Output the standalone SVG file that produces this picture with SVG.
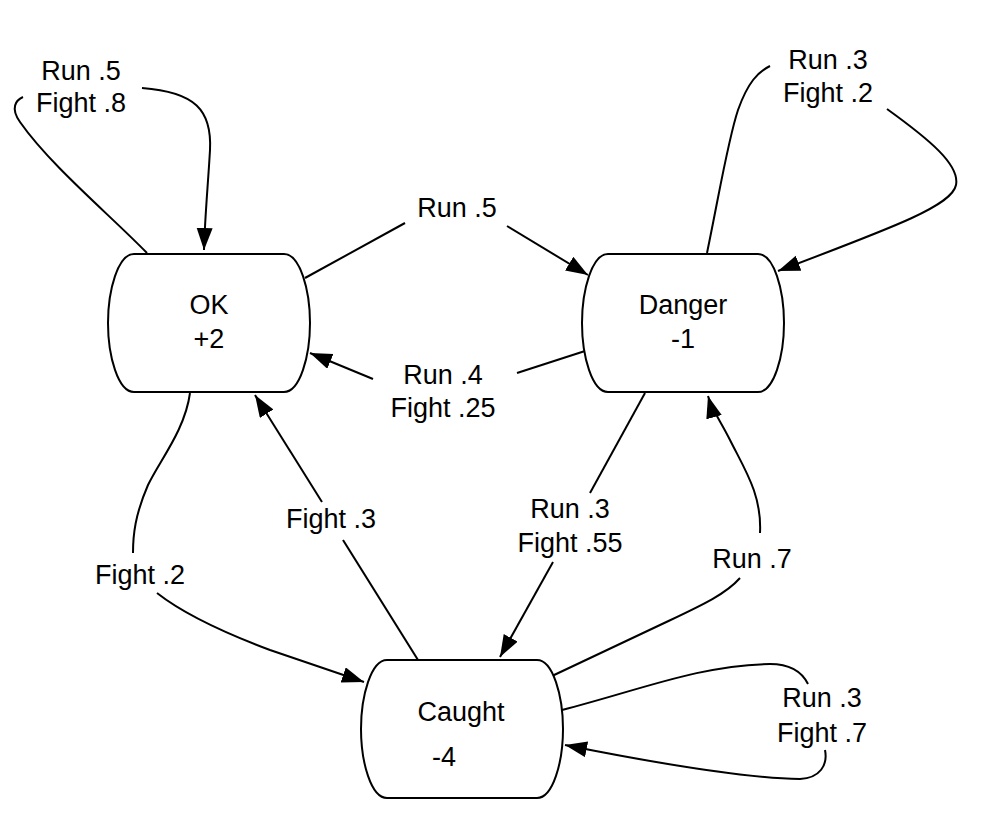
<svg xmlns="http://www.w3.org/2000/svg" width="985" height="816" viewBox="0 0 985 816">
<style>
text{font-family:"Liberation Sans",Arial,Helvetica,sans-serif;font-size:27px;fill:#000;text-anchor:middle}
.node{fill:#fff;stroke:#000;stroke-width:2}
.edge{fill:none;stroke:#000;stroke-width:2}
</style>
<defs>
<marker id="arr" markerUnits="userSpaceOnUse" markerWidth="24" markerHeight="18" refX="22" refY="8" orient="auto">
<path d="M0,0 L22,8 L0,16 Z" fill="#000"/>
</marker>
<path id="drum" d="M26,0 H176 C192,0 202,36 202,69 C202,102 192,138 176,138 H26 C10,138 0,102 0,69 C0,36 10,0 26,0 Z"/>
</defs>
<rect width="985" height="816" fill="#fff"/>
<g id="connectors">
<path class="edge" d="M147,253 C110,215 50,165 20,122 C10,108 16,100 23,97"/>
<path class="edge" d="M142,88 C195,92 212,110 210,150 C208,185 205,215 204,250" marker-end="url(#arr)"/>
<path class="edge" d="M707,253 C720,190 728,140 738,110 C748,82 758,72 770,66"/>
<path class="edge" d="M887,109 C930,140 960,165 956,185 C952,205 900,225 778,271" marker-end="url(#arr)"/>
<path class="edge" d="M305,278 L405,223"/>
<path class="edge" d="M507,226 L588,275" marker-end="url(#arr)"/>
<path class="edge" d="M585,351 L517,373"/>
<path class="edge" d="M373,379 L310,353" marker-end="url(#arr)"/>
<path class="edge" d="M190,393 C185,430 160,460 148,485 C135,515 133,535 133,553"/>
<path class="edge" d="M157,593 C185,615 230,635 270,650 L364,682" marker-end="url(#arr)"/>
<path class="edge" d="M418,660 L343,540"/>
<path class="edge" d="M322,502 L255,395" marker-end="url(#arr)"/>
<path class="edge" d="M645,393 L590,493"/>
<path class="edge" d="M553,562 L500,657" marker-end="url(#arr)"/>
<path class="edge" d="M552,676 L660,625 C700,606 725,595 740,578"/>
<path class="edge" d="M760,533 C762,495 745,470 730,440 C720,420 712,410 708,396" marker-end="url(#arr)"/>
<path class="edge" d="M562,710 C640,690 700,665 770,664 C790,664 802,672 808,684"/>
<path class="edge" d="M825,750 C828,765 820,778 800,779 C740,778 640,760 565,745" marker-end="url(#arr)"/>
</g>
<g id="labels">
<text x="81" y="80">Run .5</text><text x="81" y="112">Fight .8</text>
<text x="828" y="69">Run .3</text><text x="828" y="102">Fight .2</text>
<text x="457" y="217">Run .5</text>
<text x="443" y="384">Run .4</text><text x="443" y="417">Fight .25</text>
<text x="140" y="584">Fight .2</text>
<text x="331" y="528">Fight .3</text>
<text x="570" y="518">Run .3</text><text x="570" y="552">Fight .55</text>
<text x="752" y="568">Run .7</text>
<text x="822" y="707">Run .3</text><text x="822" y="742">Fight .7</text>
</g>
<g id="node-ok">
<use href="#drum" class="node" transform="translate(108,254)"/>
<text x="209" y="314">OK</text><text x="209" y="348">+2</text>
</g>
<g id="node-danger">
<use href="#drum" class="node" transform="translate(582,254)"/>
<text x="683" y="314">Danger</text><text x="683" y="348">-1</text>
</g>
<g id="node-caught">
<use href="#drum" class="node" transform="translate(361,660)"/>
<text x="461" y="721">Caught</text><text x="444" y="766">-4</text>
</g>
</svg>
